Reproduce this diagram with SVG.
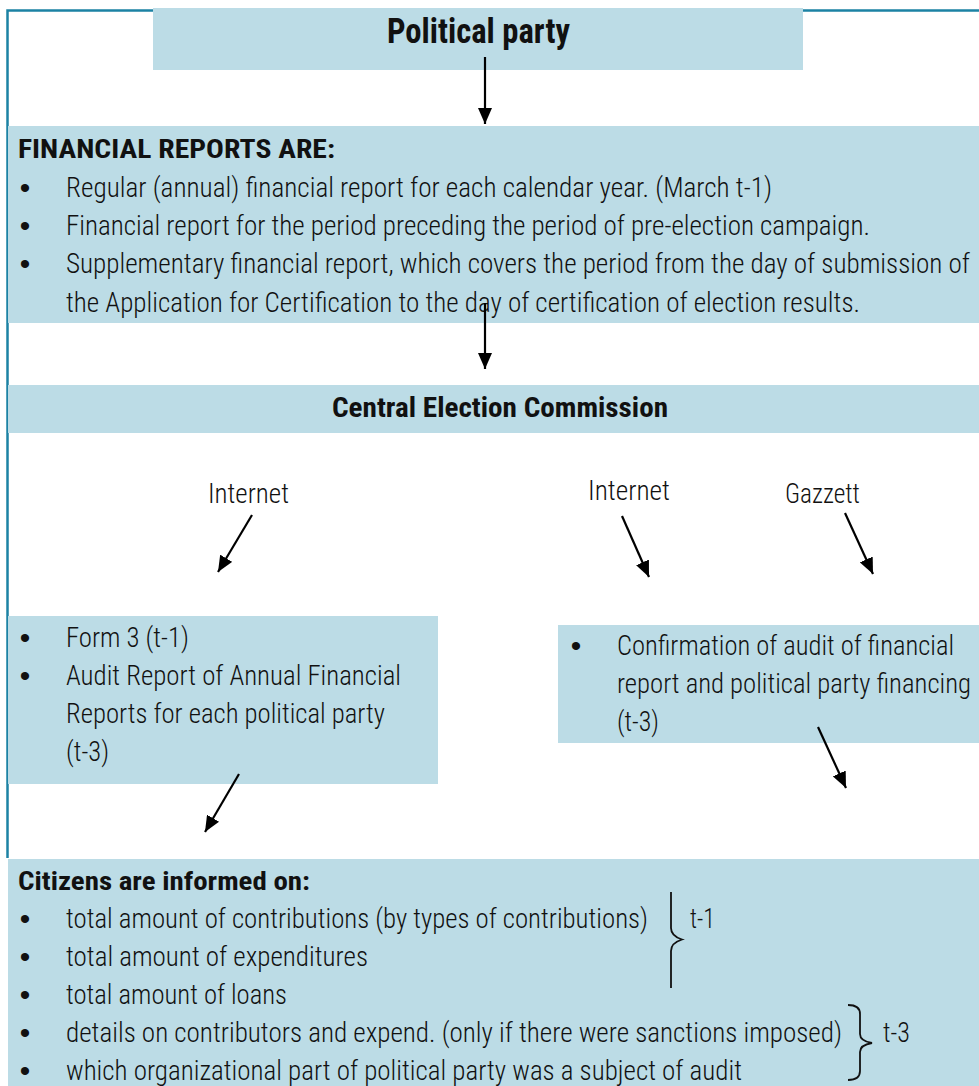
<svg xmlns="http://www.w3.org/2000/svg" width="979" height="1086" viewBox="0 0 979 1086">
<defs>
<style>
.box{fill:#bcdce6;}
.t{font-family:"Liberation Sans Narrow","Roboto Condensed","DejaVu Sans Condensed","Liberation Sans",Arial,sans-serif;font-size:27px;font-weight:300;fill:#111;}
.b{font-weight:bold;}
.bul{font-family:"Liberation Sans",Arial,sans-serif;font-size:30px;fill:#111;text-anchor:middle;}
.frame{stroke:#1c82a4;stroke-width:2.5;fill:none;}
.arr{stroke:#000;stroke-width:2.2;fill:none;marker-end:url(#ah);}
.brace{stroke:#111;stroke-width:1.8;fill:none;}
</style>
<marker id="ah" markerUnits="userSpaceOnUse" markerWidth="18" markerHeight="14" refX="16" refY="7" orient="auto">
<path d="M0,0 L16,7 L0,14 Z" fill="#000"/>
</marker>
</defs>
<rect width="979" height="1086" fill="#fff"/>
<g id="frame">
<path class="frame" d="M7.5,858 V10.5 H979"/>
</g>
<g id="political-party">
<rect class="box" x="153" y="8" width="650" height="62"/>
<text class="t b" x="387" y="43" textLength="183" lengthAdjust="spacingAndGlyphs" style="font-size:35px">Political party</text>
</g>
<g id="financial-reports">
<rect class="box" x="8" y="126" width="971" height="197"/>
<text class="t b" x="18" y="158" textLength="317" lengthAdjust="spacingAndGlyphs" style="font-size:26px">FINANCIAL REPORTS ARE:</text>
<text class="bul" x="25" y="198">•</text>
<text class="t" x="66" y="197" textLength="706" lengthAdjust="spacingAndGlyphs">Regular (annual) financial report for each calendar year. (March t-1)</text>
<text class="bul" x="25" y="236">•</text>
<text class="t" x="66" y="235" textLength="804" lengthAdjust="spacingAndGlyphs">Financial report for the period preceding the period of pre-election campaign.</text>
<text class="bul" x="25" y="274">•</text>
<text class="t" x="66" y="273" textLength="904" lengthAdjust="spacingAndGlyphs">Supplementary financial report, which covers the period from the day of submission of</text>
<text class="t" x="66" y="312" textLength="794" lengthAdjust="spacingAndGlyphs">the Application for Certification to the day of certification of election results.</text>
</g>
<g id="cec">
<rect class="box" x="8" y="385" width="971" height="48"/>
<text class="t b" x="332" y="417" textLength="336" lengthAdjust="spacingAndGlyphs" style="font-size:28px">Central Election Commission</text>
</g>
<g id="label-internet-1">
<text class="t" x="208" y="503" textLength="81" lengthAdjust="spacingAndGlyphs">Internet</text>
</g>
<g id="label-internet-2">
<text class="t" x="588" y="500" textLength="82" lengthAdjust="spacingAndGlyphs">Internet</text>
</g>
<g id="label-gazzett">
<text class="t" x="785" y="503" textLength="75" lengthAdjust="spacingAndGlyphs">Gazzett</text>
</g>
<g id="internet-reports">
<rect class="box" x="8" y="616" width="430" height="168"/>
<text class="bul" x="25" y="648">•</text>
<text class="t" x="66" y="647" textLength="123" lengthAdjust="spacingAndGlyphs">Form 3 (t-1)</text>
<text class="bul" x="25" y="686">•</text>
<text class="t" x="66" y="685" textLength="335" lengthAdjust="spacingAndGlyphs">Audit Report of Annual Financial</text>
<text class="t" x="66" y="723" textLength="319" lengthAdjust="spacingAndGlyphs">Reports for each political party</text>
<text class="t" x="66" y="761" textLength="43" lengthAdjust="spacingAndGlyphs">(t-3)</text>
</g>
<g id="confirmation">
<rect class="box" x="558" y="625" width="421" height="118"/>
<text class="bul" x="576" y="656">•</text>
<text class="t" x="617" y="655" textLength="337" lengthAdjust="spacingAndGlyphs">Confirmation of audit of financial</text>
<text class="t" x="617" y="693" textLength="354" lengthAdjust="spacingAndGlyphs">report and political party financing</text>
<text class="t" x="617" y="731" textLength="42" lengthAdjust="spacingAndGlyphs">(t-3)</text>
</g>
<g id="citizens">
<rect class="box" x="8" y="859" width="971" height="227"/>
<text class="t b" x="18" y="890" textLength="292" lengthAdjust="spacingAndGlyphs" style="font-size:25px">Citizens are informed on:</text>
<text class="bul" x="25" y="929">•</text>
<text class="t" x="66" y="928" textLength="582" lengthAdjust="spacingAndGlyphs">total amount of contributions (by types of contributions)</text>
<text class="bul" x="25" y="967">•</text>
<text class="t" x="66" y="966" textLength="302" lengthAdjust="spacingAndGlyphs">total amount of expenditures</text>
<text class="bul" x="25" y="1005">•</text>
<text class="t" x="66" y="1004" textLength="221" lengthAdjust="spacingAndGlyphs">total amount of loans</text>
<text class="bul" x="25" y="1043">•</text>
<text class="t" x="66" y="1042" textLength="776" lengthAdjust="spacingAndGlyphs">details on contributors and expend. (only if there were sanctions imposed)</text>
<text class="bul" x="25" y="1081">•</text>
<text class="t" x="66" y="1080" textLength="676" lengthAdjust="spacingAndGlyphs">which organizational part of political party was a subject of audit</text>
<path class="brace" d="M671,892 V928 Q671,936 682,939.5 Q671,943 671,951 V988"/>
<text class="t" x="690" y="928" textLength="25" lengthAdjust="spacingAndGlyphs">t-1</text>
<path class="brace" d="M848,1005 Q860,1005 860,1014 V1034 Q860,1041 872,1043 Q860,1045 860,1052 V1071 Q860,1080 848,1080"/>
<text class="t" x="883" y="1042" textLength="27" lengthAdjust="spacingAndGlyphs">t-3</text>
</g>
<g id="connectors">
<line class="arr" x1="485" y1="57" x2="485" y2="124"/>
<line class="arr" x1="485" y1="303" x2="485" y2="369"/>
<line class="arr" x1="252" y1="515" x2="218" y2="572"/>
<line class="arr" x1="622" y1="516" x2="649" y2="577"/>
<line class="arr" x1="845" y1="513" x2="873" y2="574"/>
<line class="arr" x1="239" y1="774" x2="205" y2="832"/>
<line class="arr" x1="818" y1="727" x2="846" y2="788"/>
</g>
</svg>
